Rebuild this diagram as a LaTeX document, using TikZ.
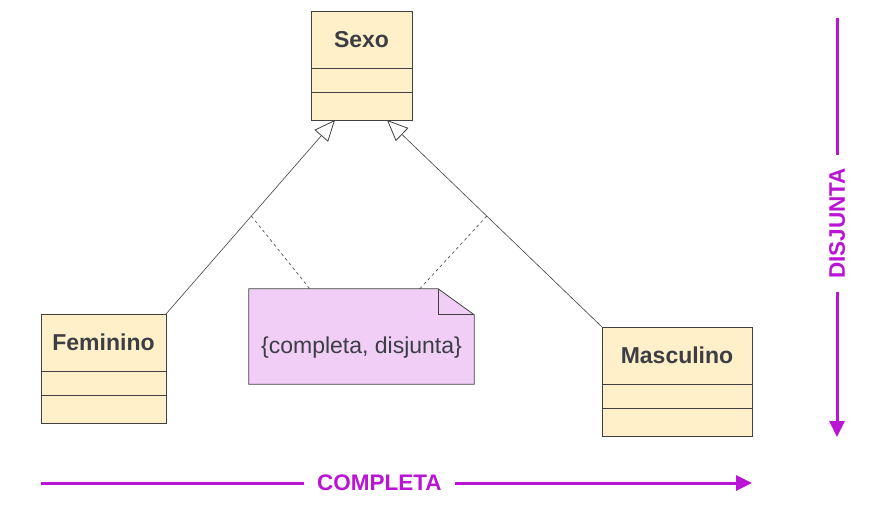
\documentclass[tikz,border=0pt]{standalone}
\usepackage{fontspec}
\setmainfont{Liberation Sans}
\usepackage{tikz}
\usetikzlibrary{arrows.meta,positioning,calc}
\usepackage{xcolor}
\definecolor{classefill}{RGB}{255,240,202}
\definecolor{notafill}{RGB}{240,206,245}
\definecolor{borda}{RGB}{64,64,64}
\definecolor{texto}{RGB}{60,62,68}
\definecolor{magenta}{RGB}{186,20,212}

\begin{document}
\begin{tikzpicture}[x=1pt,y=-1pt,
    classe/.style={draw=borda,fill=classefill,line width=0.8pt,outer sep=0pt,inner sep=0pt,
        minimum height=57pt,text=texto,font=\fontsize{23}{27}\selectfont\bfseries},
    compart/.style={draw=borda,fill=classefill,line width=0.8pt,outer sep=0pt,inner sep=0pt,
        minimum height=#1},
    gener/.style={draw=borda,line width=0.6pt,-{Triangle[open,length=21pt,width=18pt,line width=0.8pt]}},
    tracejado/.style={draw=borda,line width=0.6pt,dash pattern=on 3pt off 3pt},
    seta/.style={magenta,line width=3pt,-{Triangle[length=16pt,width=15pt]}},
    rotulo/.style={fill=white,text=magenta,inner xsep=13pt,inner ysep=2pt,
        font=\fontsize{22.5}{26}\selectfont\bfseries}]
    \useasboundingbox (0,0) rectangle (883,527);
    % --- superclasse ---
    \node[classe,minimum width=101pt] (sexo) at (361.5,39.5) {Sexo};
    \node[compart=24pt,minimum width=101pt,below=0pt of sexo] (sexoA) {};
    \node[compart=28pt,minimum width=101pt,below=0pt of sexoA] (sexoB) {};
    % --- subclasses ---
    \node[classe,minimum width=125pt] (fem) at (103.5,342.5) {Feminino};
    \node[compart=24pt,minimum width=125pt,below=0pt of fem] (femA) {};
    \node[compart=28pt,minimum width=125pt,below=0pt of femA] (femB) {};
    \node[classe,minimum width=150pt] (masc) at (677,355.5) {Masculino};
    \node[compart=24pt,minimum width=150pt,below=0pt of masc] (mascA) {};
    \node[compart=28pt,minimum width=150pt,below=0pt of mascA] (mascB) {};
    % --- generalizacao ---
    \coordinate (pontaE) at ($(sexoB.south)+(-26.5,0)$);
    \coordinate (pontaD) at ($(sexoB.south)+(25.5,0)$);
    \draw[gener] (fem.north east) -- coordinate[pos=0.505] (meioE) (pontaE);
    \draw[gener] (masc.north west) -- coordinate[pos=0.536] (meioD) (pontaD);
    % --- nota com a restricao ---
    \node[minimum width=225pt,minimum height=95pt,inner sep=0pt] (nota) at (361.5,336.5) {};
    \fill[notafill] (nota.south west) -- (nota.north west) -- ($(nota.north east)+(-36,0)$)
        -- ($(nota.north east)+(0,26)$) -- (nota.south east) -- cycle;
    \draw[borda,line width=0.8pt] (nota.south west) -- (nota.north west) -- ($(nota.north east)+(-36,0)$)
        -- ($(nota.north east)+(0,26)$) -- (nota.south east) -- cycle;
    \draw[borda,line width=0.8pt] ($(nota.north east)+(-36,0)$) -- ($(nota.north east)+(-36,26)$)
        -- ($(nota.north east)+(0,26)$);
    \node[text=texto,font=\fontsize{23}{27}\selectfont] (txtnota) at (361.5,347.5) {\{completa, disjunta\}};
    \coordinate (notaE) at ($(nota.north west)+(61,0)$);
    \coordinate (notaD) at ($(nota.north west)+(171,0)$);
    \draw[tracejado] (meioE) -- (notaE);
    \draw[tracejado] (meioD) -- (notaD);
    % --- eixos: completa / disjunta ---
    \coordinate (cIni) at (41,483);
    \coordinate (cFim) at (752,483);
    \draw[seta] (cIni) -- node[rotulo,pos=0.476] (completa) {COMPLETA} (cFim);
    \coordinate (dIni) at (837,18);
    \coordinate (dFim) at (837,437);
    \draw[seta] (dIni) -- node[rotulo,rotate=90,pos=0.49] (disjunta) {DISJUNTA} (dFim);
\end{tikzpicture}
\end{document}
